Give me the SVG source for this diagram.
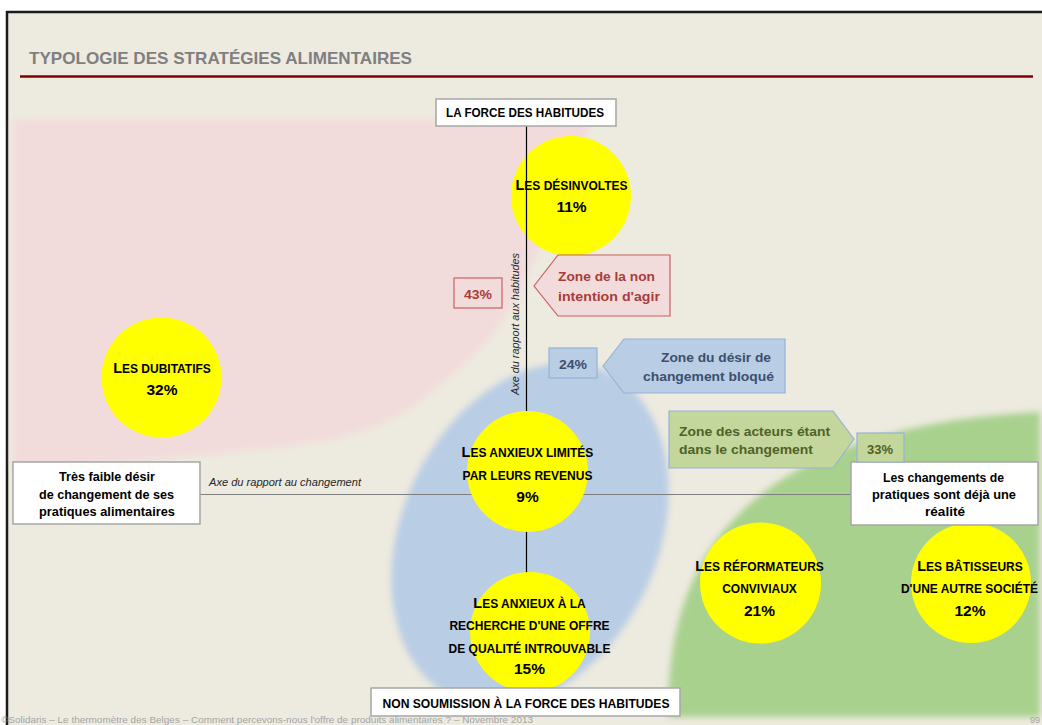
<svg xmlns="http://www.w3.org/2000/svg" width="1042" height="725" viewBox="0 0 1042 725">
<defs>
<filter id="soft" x="-10%" y="-10%" width="120%" height="120%"><feGaussianBlur stdDeviation="3"/></filter>
<style>
text{font-family:"Liberation Sans",Arial,sans-serif;}
.title{font-size:16.5px;font-weight:bold;fill:#7F7F7F;}
.wbox{fill:#FFFFFF;stroke:#A6A6A6;stroke-width:1.5;}
.btxt{font-size:12.5px;font-weight:bold;fill:#000;text-anchor:middle;}
.axis{font-size:10.5px;font-style:italic;fill:#262626;}
.yel{fill:#FFFF00;}
.lbl{font-size:12px;font-weight:bold;fill:#000;text-anchor:middle;}
.big{font-size:14.5px;}
.pct{font-size:15.5px;font-weight:bold;fill:#000;text-anchor:middle;}
.red{fill:#F2DCDB;stroke:#C9605F;stroke-width:1.2;}
.redt{font-size:13.5px;font-weight:bold;fill:#A83C3C;}
.blue{fill:#B9CDE5;stroke:#95B3D7;stroke-width:1.2;}
.bluet{font-size:13.5px;font-weight:bold;fill:#3B4F6E;}
.green{fill:#C3D69B;stroke:#95B3D7;stroke-width:1.2;}
.greent{font-size:13.5px;font-weight:bold;fill:#4F6228;}
.foot{font-size:9px;fill:#A6A6A6;}
</style>
</defs>
<rect x="0" y="0" width="1042" height="725" fill="#FFFFFF"/>
<rect x="7" y="12" width="1035" height="713" fill="#EDEADF"/>
<line x1="6" y1="12" x2="1042" y2="12" stroke="#1A1A1A" stroke-width="2.5"/>
<line x1="7" y1="11" x2="7" y2="725" stroke="#1A1A1A" stroke-width="2.5"/>
<text class="title" x="29" y="64" textLength="383" lengthAdjust="spacingAndGlyphs">TYPOLOGIE DES STRATÉGIES ALIMENTAIRES</text>
<line x1="20" y1="76.5" x2="1033" y2="76.5" stroke="#800000" stroke-width="2.5"/>

<g id="zones">
<path id="zone-pink" filter="url(#soft)" fill="#F2DCDB" d="M13,120 L592,120 C575,170 545,240 520,290 S470,360 421,400 S300,445 230,452 S60,468 13,470 Z"/>
<ellipse id="zone-blue" filter="url(#soft)" fill="#B9CDE5" cx="530" cy="535" rx="128" ry="180" transform="rotate(25 530 535)"/>
<path id="zone-green" filter="url(#soft)" fill="#A9D18E" d="M668,717 C668,600 700,430 1040,412 L1040,717 Z"/>
</g>

<g id="node-desinvoltes">
<circle class="yel" cx="571" cy="196" r="60"/>
</g>

<g id="connectors">
<line x1="526.5" y1="126" x2="526.5" y2="688" stroke="#000" stroke-width="1.2"/>
<line x1="200" y1="494.5" x2="851" y2="494.5" stroke="#7F7F7F" stroke-width="1.2"/>
<text class="axis" x="209" y="486" textLength="152" lengthAdjust="spacingAndGlyphs">Axe du rapport au changement</text>
<text class="axis" transform="translate(518.5,324) rotate(-90)" x="0" y="0" text-anchor="middle" textLength="142" lengthAdjust="spacingAndGlyphs">Axe du rapport aux habitudes</text>
</g>

<g id="node-desinvoltes-label">
<text class="lbl" x="571.5" y="190"><tspan class="big">L</tspan>ES DÉSINVOLTES</text>
<text class="pct" x="571.5" y="212">11%</text>
</g>

<g id="node-dubitatifs">
<circle class="yel" cx="161.5" cy="377.5" r="60"/>
<text class="lbl" x="162" y="373"><tspan class="big">L</tspan>ES DUBITATIFS</text>
<text class="pct" x="162" y="395">32%</text>
</g>

<g id="node-anxieux-limites">
<circle class="yel" cx="527.5" cy="471.5" r="60.5"/>
<text class="lbl" x="527.5" y="457"><tspan class="big">L</tspan>ES ANXIEUX LIMITÉS</text>
<text class="lbl" x="527.5" y="480">PAR LEURS REVENUS</text>
<text class="pct" x="527.5" y="502">9%</text>
</g>

<g id="node-anxieux-recherche">
<circle class="yel" cx="530" cy="632" r="60"/>
<text class="lbl" x="529.5" y="608"><tspan class="big">L</tspan>ES ANXIEUX À LA</text>
<text class="lbl" x="529.5" y="630">RECHERCHE D'UNE OFFRE</text>
<text class="lbl" x="529.5" y="653">DE QUALITÉ INTROUVABLE</text>
<text class="pct" x="529.5" y="674">15%</text>
</g>

<g id="node-reformateurs">
<circle class="yel" cx="760.5" cy="583" r="60.5"/>
<text class="lbl" x="759.5" y="571"><tspan class="big">L</tspan>ES RÉFORMATEURS</text>
<text class="lbl" x="759.5" y="593">CONVIVIAUX</text>
<text class="pct" x="759.5" y="616">21%</text>
</g>

<g id="node-batisseurs">
<circle class="yel" cx="971" cy="583" r="60"/>
<text class="lbl" x="970" y="571"><tspan class="big">L</tspan>ES BÂTISSEURS</text>
<text class="lbl" x="969.5" y="593">D'UNE AUTRE SOCIÉTÉ</text>
<text class="pct" x="970" y="616">12%</text>
</g>

<g id="node-force">
<rect class="wbox" x="436" y="99" width="180" height="27"/>
<text class="btxt" x="525" y="117" textLength="158" lengthAdjust="spacingAndGlyphs">LA FORCE DES HABITUDES</text>
</g>

<g id="node-non-soumission">
<rect class="wbox" x="371" y="688" width="309" height="28"/>
<text class="btxt" x="526" y="708" textLength="287" lengthAdjust="spacingAndGlyphs">NON SOUMISSION À LA FORCE DES HABITUDES</text>
</g>

<g id="node-faible-desir">
<rect class="wbox" x="13" y="462" width="187" height="62"/>
<text class="btxt" x="107" y="481" textLength="96" lengthAdjust="spacingAndGlyphs">Très faible désir</text>
<text class="btxt" x="106.5" y="499" textLength="135" lengthAdjust="spacingAndGlyphs">de changement de ses</text>
<text class="btxt" x="107" y="516" textLength="136" lengthAdjust="spacingAndGlyphs">pratiques alimentaires</text>
</g>

<g id="node-changements">
<rect class="wbox" x="851" y="462" width="187" height="63"/>
<text class="btxt" x="943.5" y="482" textLength="121" lengthAdjust="spacingAndGlyphs">Les changements de</text>
<text class="btxt" x="944" y="499" textLength="144" lengthAdjust="spacingAndGlyphs">pratiques sont déjà une</text>
<text class="btxt" x="945" y="516" textLength="40" lengthAdjust="spacingAndGlyphs">réalité</text>
</g>

<g id="node-zone-non-intention">
<polygon class="red" points="534,286 558,255 670,255 670,316 558,316"/>
<text class="redt" x="558" y="281" textLength="97" lengthAdjust="spacingAndGlyphs">Zone de la non</text>
<text class="redt" x="558" y="301" textLength="102" lengthAdjust="spacingAndGlyphs">intention d'agir</text>
</g>

<g id="node-43">
<rect class="red" x="454" y="278" width="48" height="30"/>
<text class="redt" x="478" y="299" text-anchor="middle" textLength="28" lengthAdjust="spacingAndGlyphs">43%</text>
</g>

<g id="node-zone-desir-bloque">
<polygon class="blue" points="603,366 624,339 785,339 785,393 624,393"/>
<text class="bluet" x="661" y="362" textLength="110" lengthAdjust="spacingAndGlyphs">Zone du désir de</text>
<text class="bluet" x="643" y="381" textLength="131" lengthAdjust="spacingAndGlyphs">changement bloqué</text>
</g>

<g id="node-24">
<rect class="blue" x="549" y="348" width="48" height="30"/>
<text class="bluet" x="573" y="369" text-anchor="middle" textLength="28" lengthAdjust="spacingAndGlyphs">24%</text>
</g>

<g id="node-zone-acteurs">
<polygon class="green" points="669,411 833,411 854,439 833,468 669,468"/>
<text class="greent" x="679" y="436" textLength="151" lengthAdjust="spacingAndGlyphs">Zone des acteurs étant</text>
<text class="greent" x="679" y="454" textLength="134" lengthAdjust="spacingAndGlyphs">dans le changement</text>
</g>

<g id="node-33">
<rect class="green" x="857" y="433" width="47" height="29"/>
<text class="greent" x="880" y="454" text-anchor="middle" textLength="26" lengthAdjust="spacingAndGlyphs">33%</text>
</g>

<text class="foot" x="1" y="723" textLength="532" lengthAdjust="spacingAndGlyphs">©Solidaris – Le thermomètre des Belges – Comment percevons-nous l'offre de produits alimentaires ? – Novembre 2013</text>
<text class="foot" x="1030" y="723">99</text>
</svg>
